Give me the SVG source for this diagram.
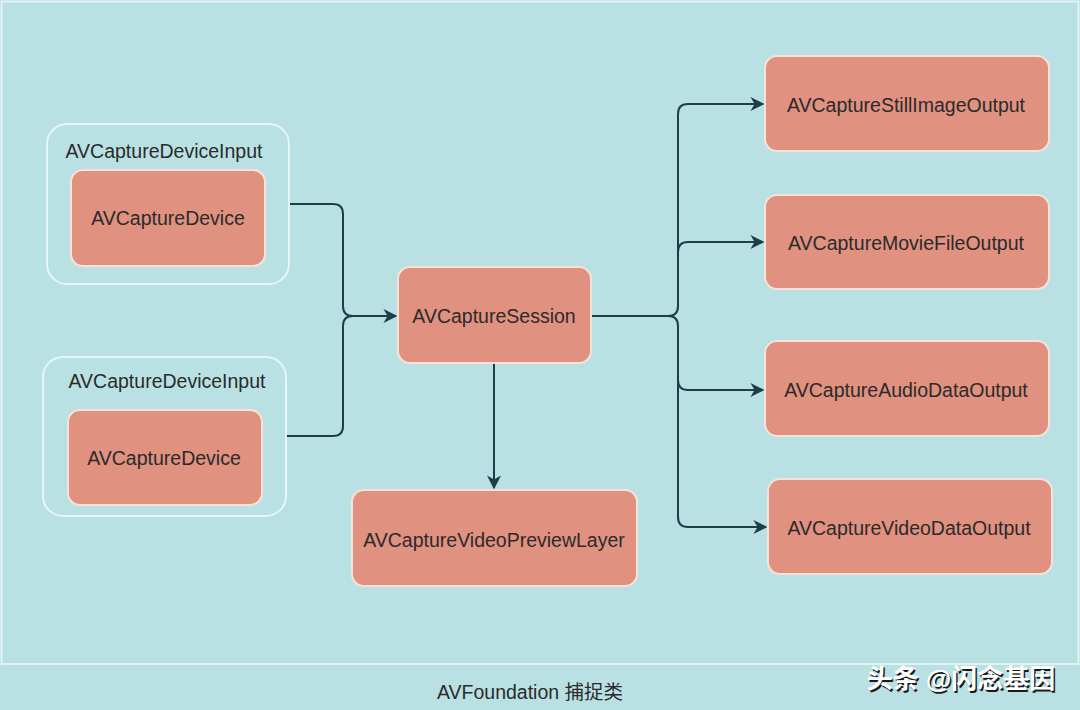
<svg xmlns="http://www.w3.org/2000/svg" width="1080" height="710" viewBox="0 0 1080 710">
<style>
.bg{fill:#b9e1e3}
.grp{fill:none;stroke:#e4f6f6;stroke-width:2}
.box{fill:#e0917f;stroke:#f7e2da;stroke-width:2}
.t{font-family:"Liberation Sans",Arial,sans-serif;font-size:19.5px;fill:#2b2b2b;text-anchor:middle;dominant-baseline:central}
.c{fill:none;stroke:#1e3d48;stroke-width:2}
.wm{font-family:"Liberation Sans","Noto Sans CJK SC",sans-serif;font-size:26px;font-weight:bold;fill:#ffffff;text-anchor:middle;dominant-baseline:central}
</style>
<defs>
<marker id="arr" viewBox="0 0 10 10" refX="9" refY="5" markerWidth="7" markerHeight="7" markerUnits="strokeWidth" orient="auto">
<path d="M0,0 L10,5 L0,10 L3,5 z" fill="#1e3d48"/>
</marker>
</defs>
<rect class="bg" x="0" y="0" width="1080" height="710"/>
<rect x="1.5" y="1.5" width="1077" height="662.5" fill="none" stroke="#e2f3f3" stroke-width="2"/>

<g id="connectors">
<path class="c" d="M289,204 H333 Q343,204 343,214 V306 Q343,316 353,316 H396" marker-end="url(#arr)"/>
<path class="c" d="M286,436 H333 Q343,436 343,426 V326 Q343,316 353,316"/>
<path class="c" d="M591,316 H668 Q678,316 678,306 V114 Q678,104 688,104 H763" marker-end="url(#arr)"/>
<path class="c" d="M678,252 Q678,242 688,242 H763" marker-end="url(#arr)"/>
<path class="c" d="M668,316 Q678,316 678,326 V380 Q678,390 688,390 H763" marker-end="url(#arr)"/>
<path class="c" d="M678,380 V517 Q678,527 688,527 H766" marker-end="url(#arr)"/>
<path class="c" d="M494,363 V488" marker-end="url(#arr)"/>
</g>

<g id="input1">
<rect class="grp" x="47" y="124" width="242" height="160" rx="20"/>
<text class="t" x="164" y="151">AVCaptureDeviceInput</text>
</g>
<g id="device1">
<rect class="box" x="71" y="170" width="194" height="96" rx="12"/>
<text class="t" x="168" y="218">AVCaptureDevice</text>
</g>
<g id="input2">
<rect class="grp" x="43" y="357" width="243" height="159" rx="20"/>
<text class="t" x="167" y="381">AVCaptureDeviceInput</text>
</g>
<g id="device2">
<rect class="box" x="68" y="410" width="194" height="95" rx="12"/>
<text class="t" x="164" y="458">AVCaptureDevice</text>
</g>
<g id="session">
<rect class="box" x="398" y="267" width="193" height="96" rx="12"/>
<text class="t" x="494" y="316">AVCaptureSession</text>
</g>
<g id="preview">
<rect class="box" x="352" y="490" width="285" height="96" rx="12"/>
<text class="t" x="494" y="540">AVCaptureVideoPreviewLayer</text>
</g>
<g id="still">
<rect class="box" x="765" y="56" width="284" height="95" rx="12"/>
<text class="t" x="906" y="105">AVCaptureStillImageOutput</text>
</g>
<g id="movie">
<rect class="box" x="765" y="195" width="284" height="94" rx="12"/>
<text class="t" x="906" y="243">AVCaptureMovieFileOutput</text>
</g>
<g id="audio">
<rect class="box" x="765" y="341" width="284" height="95" rx="12"/>
<text class="t" x="906" y="390">AVCaptureAudioDataOutput</text>
</g>
<g id="video">
<rect class="box" x="768" y="479" width="284" height="95" rx="12"/>
<text class="t" x="909" y="528">AVCaptureVideoDataOutput</text>
</g>

<text class="t" x="530" y="692" style="font-family:'Liberation Sans','Noto Sans CJK SC',sans-serif">AVFoundation 捕捉类</text>
<text class="wm" x="961" y="679" style="fill:#1a1a1a" transform="translate(1.5,1.5)">头条 @闪念基因</text>
<text class="wm" x="961" y="679">头条 @闪念基因</text>
</svg>
